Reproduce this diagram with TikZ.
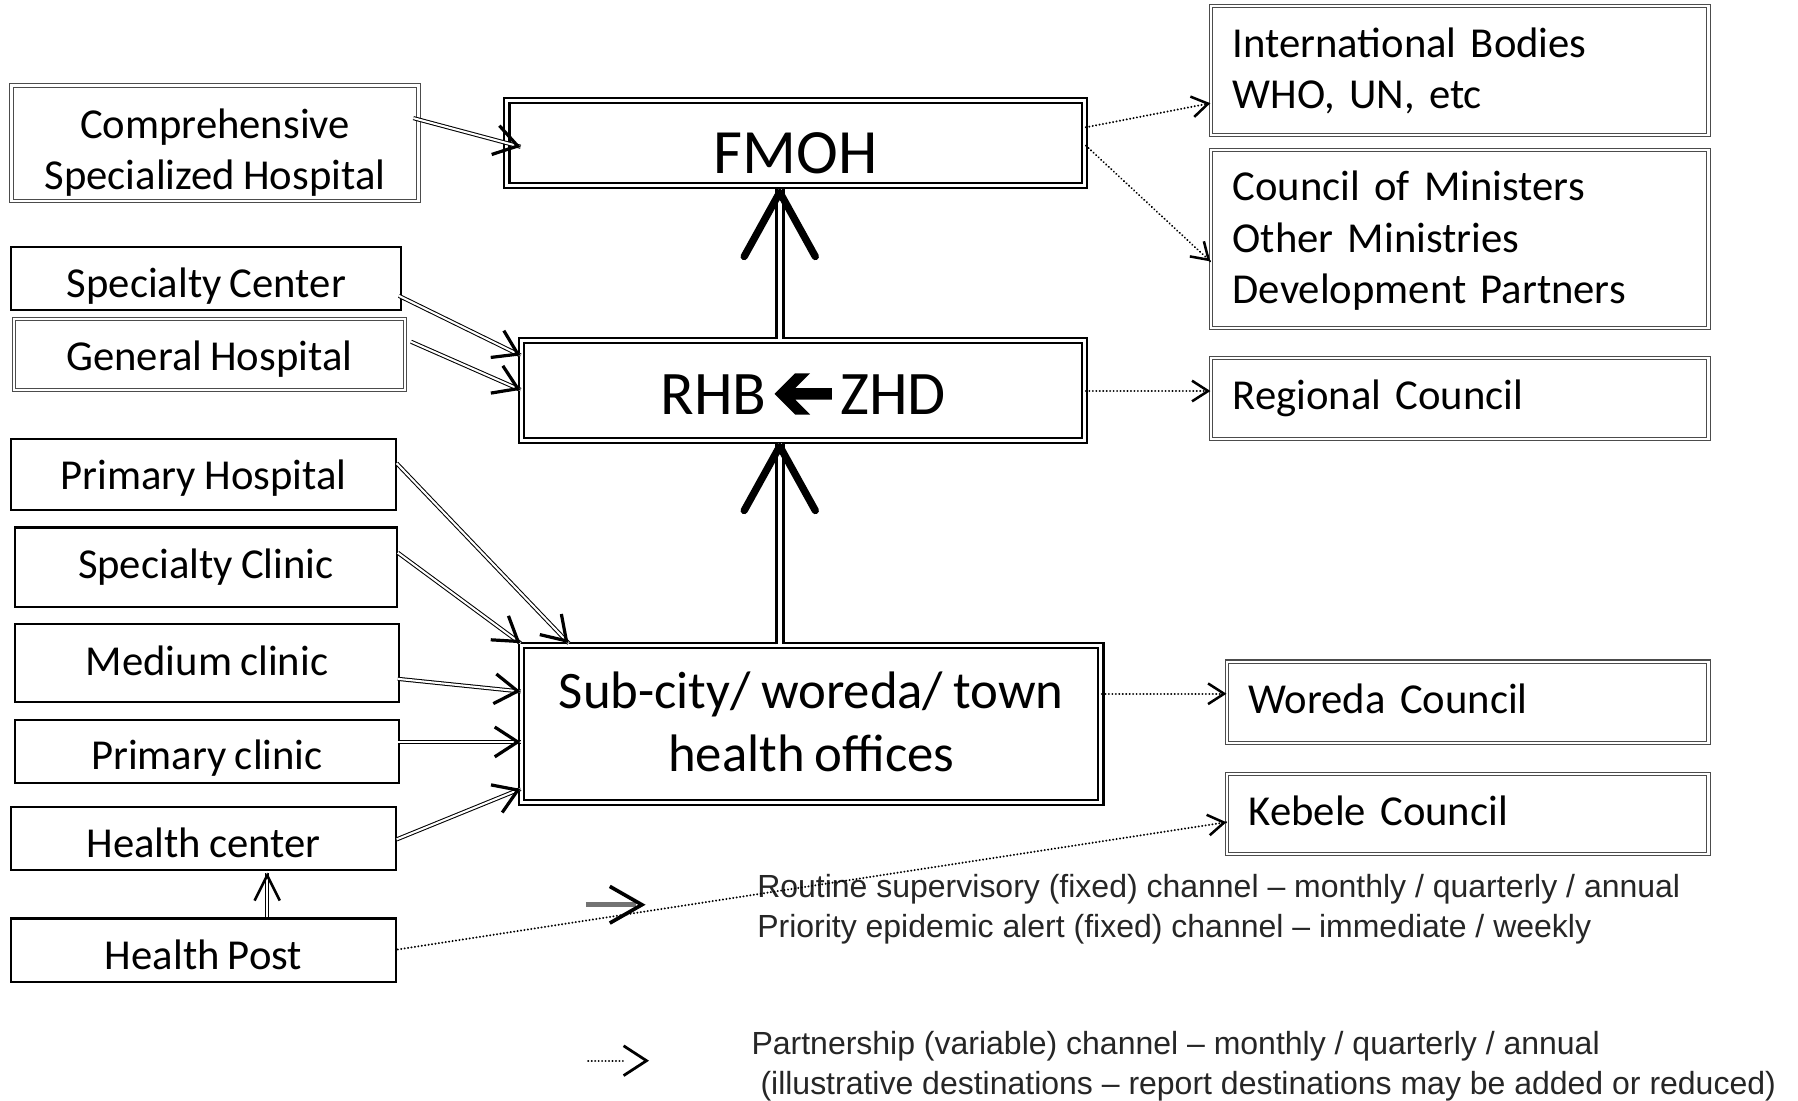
\documentclass[tikz,border=0pt]{standalone}
\usepackage{fontspec}
\setmainfont{Carlito}[WordSpace=0.85]
\newfontfamily\legendfont{Liberation Sans}
\usetikzlibrary{arrows.meta,decorations.markings}

\tikzset{
  % node frames; text depth is fixed so that text height places the baseline
  thinbox/.style={draw=black!70, line width=0.45pt, double=white, double distance=1pt,
                  inner sep=0pt, align=center, text depth=5pt,
                  font=\fontsize{18.6}{22.5}\selectfont},
  plainbox/.style={draw=black, line width=0.9pt, inner sep=0pt, align=center, text depth=5pt,
                   font=\fontsize{18.6}{22.5}\selectfont},
  mainbox/.style={draw=black, line width=1pt, double=white, double distance=1.2pt,
                  inner sep=0pt, align=center, text depth=5pt},
  sidebox/.style={thinbox, align=left, inner xsep=9.5pt},
  % arrow tip placed at the end of a path
  tipped/.style={postaction={decorate,decoration={markings,
      mark=at position 1 with {\pgfsetinnerlinewidth{0pt}\pgfsetdash{}{0pt}\arrow{#1}}}}},
  % reporting channels
  shaft/.style={draw=black, line width=0.45pt, double=white, double distance=0.9pt},
  lnk/.style={shaft, tipped={Straight Barb[length=10pt,width=13pt,line width=1.4pt]}},
  uplnk/.style={shaft, tipped={Straight Barb[length=11pt,width=11pt,line width=1.1pt]}},
  biglnk/.style={draw=black, line width=1.3pt, double=white, double distance=1.9pt,
      tipped={Straight Barb[length=28pt,width=31pt,line width=3.2pt,round]}},
  dotted line/.style={draw=black, line width=0.95pt, line cap=round, dash pattern=on 0.01pt off 1.5pt},
  dotlnk/.style={dotted line,
      tipped={Straight Barb[length=7pt,width=9pt,line width=1.1pt]}},
  legendtext/.style={font=\legendfont\fontsize{13.95}{17.3}\selectfont, text=black!85,
      anchor=north west, inner sep=0pt, align=left},
}

\begin{document}
\begin{tikzpicture}[x=0.5pt, y=-0.5pt]
\fill[white] (0,0) rectangle (1568,960);
\useasboundingbox (0,0) rectangle (1568,960);

% federal level
\node[thinbox, minimum width=177.5pt, minimum height=50pt, text height=45.5pt] (comp) at (187.5,125)
  {Comprehensive\\Specialized Hospital};
\node[mainbox, minimum width=252pt, minimum height=35.5pt, text height=32pt,
  font=\fontsize{27.5}{33}\selectfont] (fmoh) at (694,124.5) {FMOH};
\node[sidebox, text width=198pt, minimum height=56.5pt, text height=14pt, text depth=25.5pt]
  (intl) at (1273,61.5) {International Bodies\\WHO, UN, etc};
\node[sidebox, text width=198pt, minimum height=77.5pt, text height=14pt, text depth=47.5pt]
  (council) at (1273,208.5) {Council of Ministers\\Other Ministries\\Development Partners};

% regional level
\node[plainbox, minimum width=170pt, minimum height=27.5pt, text height=21.5pt] (spc) at (180,242.5)
  {Specialty Center};
\node[thinbox, minimum width=170.5pt, minimum height=31pt, text height=19pt] (gen) at (182.5,309)
  {General Hospital};
\node[mainbox, minimum width=245.5pt, minimum height=43.5pt, text height=26pt,
  font=\fontsize{27}{32}\selectfont] (rhb) at (700.5,340.5) {RHB\hspace{32pt}ZHD};
\node[sidebox, text width=198pt, minimum height=35.5pt, text height=14.5pt] (reg) at (1273,347.5)
  {Regional Council};

% woreda level
\node[plainbox, minimum width=167.5pt, minimum height=31pt, text height=18pt] (ph) at (177.5,414)
  {Primary Hospital};
\node[plainbox, minimum width=166.5pt, minimum height=34.5pt, text height=15pt] (scl) at (179.5,494.5)
  {Specialty Clinic};
\node[plainbox, minimum width=167.5pt, minimum height=34pt, text height=16pt] (mcl) at (180.5,578)
  {Medium clinic};
\node[plainbox, minimum width=167.5pt, minimum height=27.5pt, text height=20.5pt] (pcl) at (180.5,655.5)
  {Primary clinic};
\node[plainbox, minimum width=167.5pt, minimum height=27.5pt, text height=21.5pt] (hc) at (177.5,731.5)
  {Health center};
\node[plainbox, minimum width=167.5pt, minimum height=27.5pt, text height=22pt] (hp) at (177.5,828.5)
  {Health Post};
\node[mainbox, minimum width=252.5pt, minimum height=68.5pt, text height=46.5pt,
  font=\fontsize{23}{27.5}\selectfont] (sub) at (707.5,631.5) {Sub-city/ woreda/ town\\health offices};
\node[sidebox, text width=191pt, minimum height=35.5pt, text height=14.5pt] (wor) at (1280,612.5)
  {Woreda Council};
\node[sidebox, text width=191pt, minimum height=35pt, text height=15pt] (keb) at (1280,710)
  {Kebele Council};

% heavy arrow between RHB and ZHD
\fill ([shift={(-25,3)}]rhb.center) -- ++(18,-18) -- ++(13,0) -- ++(-13,13) -- ++(32,0)
  -- ++(0,10) -- ++(-32,0) -- ++(13,13) -- ++(-13,0) -- cycle;

% routine supervisory channels
\draw[lnk] ([shift={(-5,-22)}]comp.east) -- ([shift={(13,3.5)}]fmoh.west);
\draw[lnk] ([shift={(-3,15.5)}]spc.east) -- ([shift={(0,-30.5)}]rhb.west);
\draw[lnk] ([shift={(5,-11)}]gen.east) -- ([shift={(0,-0.5)}]rhb.west);
\draw[lnk] ([shift={(0,-10)}]ph.east) -- ([shift={(42,-1)}]sub.north west);
\draw[lnk] ([shift={(0,-12.5)}]scl.east) -- ([shift={(0,-1)}]sub.north west);
\draw[lnk] ([shift={(-2,14)}]mcl.east) -- ([shift={(0,-28.5)}]sub.west);
\draw[lnk] ([shift={(-2,-8.5)}]pcl.east) -- ([shift={(0,15.5)}]sub.west);
\draw[lnk] ([shift={(0,0.5)}]hc.east) -- ([shift={(0,56.5)}]sub.west);
\draw[uplnk] ([shift={(55.5,0)}]hp.north) -- ([shift={(55.5,1)}]hc.south);
\draw[biglnk] ([shift={(-27.5,0)}]sub.north) -- ([shift={(-20.5,1)}]rhb.south);
\draw[biglnk] ([shift={(-20.5,0)}]rhb.north) -- ([shift={(-14,2)}]fmoh.south);

% partnership channels
\draw[dotlnk] ([shift={(0,-13.5)}]fmoh.east) -- ([shift={(0,28.5)}]intl.west);
\draw[dotlnk] ([shift={(0,2.5)}]fmoh.east) -- ([shift={(0,19.5)}]council.west);
\draw[dotlnk] ([shift={(0,0.5)}]rhb.east) -- ([shift={(0,-6.5)}]reg.west);
\draw[dotlnk] ([shift={(0,-26.5)}]sub.east) -- ([shift={(0,-7.5)}]wor.west);

% legend
\coordinate (lsA) at (511,789);
\coordinate (lsB) at (563,789);
\draw[black!55, line width=2.3pt] (lsA) -- ([xshift=-4]lsB);
\path[tipped={Straight Barb[length=14pt,width=16pt,line width=1.6pt]}] (lsA) -- (lsB);
\node[legendtext] (leg1) at (660,762)
  {Routine supervisory (fixed) channel – monthly / quarterly / annual\\
   Priority epidemic alert (fixed) channel – immediate / weekly};
\coordinate (ldA) at (513,925);
\coordinate (ldB) at (566,925);
\draw[dotted line] (ldA) -- ([xshift=-10]ldB);
\path[tipped={Straight Barb[length=10pt,width=13pt,line width=1.2pt]}] (ldA) -- (ldB);
\node[legendtext] (leg2) at (655,899)
  {Partnership (variable) channel – monthly / quarterly / annual\\
   \hspace{0.28em}(illustrative destinations – report destinations may be added or reduced)};

\draw[dotlnk] ([shift={(1,-0.5)}]hp.east) -- ([shift={(0,7)}]keb.west);
\end{tikzpicture}
\end{document}
